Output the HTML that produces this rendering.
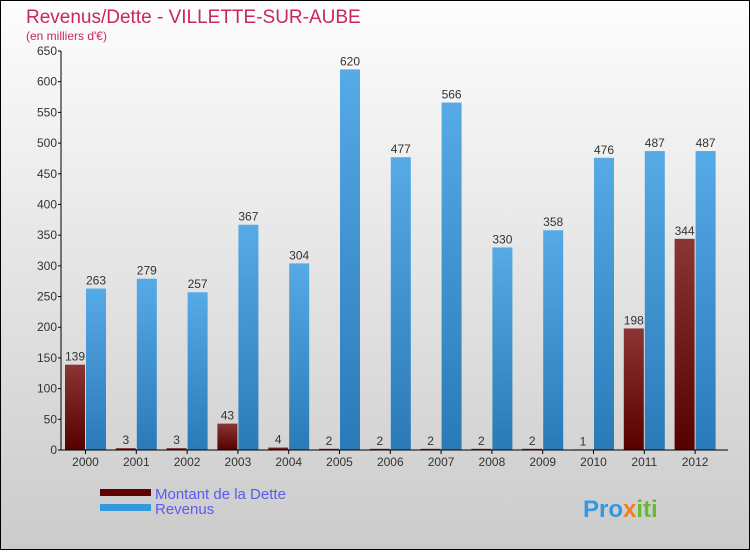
<!DOCTYPE html>
<html><head><meta charset="utf-8"><style>
body{margin:0}
svg text{font-family:"Liberation Sans",sans-serif}
</style></head><body>
<svg id="c" width="750" height="550" xmlns="http://www.w3.org/2000/svg">
<defs>
<linearGradient id="bg" x1="0" y1="0" x2="0" y2="1"><stop offset="0" stop-color="#fdfdfd"/><stop offset="1" stop-color="#cbcbcb"/></linearGradient>
<linearGradient id="gd" x1="0" y1="0" x2="0" y2="1"><stop offset="0" stop-color="#8a3434"/><stop offset="1" stop-color="#560000"/></linearGradient>
<linearGradient id="gr" x1="0" y1="0" x2="0" y2="1"><stop offset="0" stop-color="#56aae6"/><stop offset="1" stop-color="#2a7ab8"/></linearGradient>
</defs>
<rect x="0.5" y="0.5" width="749" height="549" fill="url(#bg)" stroke="#000"/>
<text x="26" y="23" font-size="19" fill="#c8285a">Revenus/Dette - VILLETTE-SUR-AUBE</text>
<text x="26" y="40" font-size="12" fill="#c8285a">(en milliers d'€)</text>
<g id="bars"></g>
<g id="axes"></g>
<rect x="100" y="489" width="51" height="7" fill="#600000"/>
<text x="155" y="499" font-size="15" fill="#5a5af0">Montant de la Dette</text>
<rect x="100" y="504" width="51" height="7" fill="#3399dd"/>
<text x="155" y="514" font-size="15" fill="#5a5af0">Revenus</text>
<text x="583" y="517" font-size="24" font-weight="bold" fill="#3399dd">Pro<tspan fill="#f08020">x</tspan><tspan fill="#66bb33">iti</tspan></text>
</svg>
<script>
const years=["2000","2001","2002","2003","2004","2005","2006","2007","2008","2009","2010","2011","2012"];
const dette=[139,3,3,43,4,2,2,2,2,2,1,198,344];
const revenus=[263,279,257,367,304,620,477,566,330,358,476,487,487];
const ticks=[0,50,100,150,200,250,300,350,400,450,500,550,600,650];
const NS="http://www.w3.org/2000/svg";
const y0=450,yTop=51,maxV=650;
function y(v){return y0-(v/maxV)*(y0-yTop);}
function gx(i){return 65+i*50.8;}
function mk(t,a,p){const e=document.createElementNS(NS,t);for(const k in a)e.setAttribute(k,a[k]);p.appendChild(e);return e;}
const B=document.getElementById('bars'),A=document.getElementById('axes');
years.forEach((yr,i)=>{
  const x=gx(i);
  let r=mk('rect',{x:x,y:y(dette[i]),width:20,height:y0-y(dette[i]),fill:'url(#gd)'},B);
  
  
  let t=mk('text',{x:x+10,y:y(dette[i])-4,'font-size':12,'text-anchor':'middle',fill:'#333'},B);t.textContent=dette[i];
  
  
  r=mk('rect',{x:x+21,y:y(revenus[i]),width:20,height:y0-y(revenus[i]),fill:'url(#gr)'},B);
  
  
  t=mk('text',{x:x+31,y:y(revenus[i])-4,'font-size':12,'text-anchor':'middle',fill:'#333'},B);t.textContent=revenus[i];
  
  
  t=mk('text',{x:x+20.5,y:466,'font-size':12,'text-anchor':'middle',fill:'#333'},A);t.textContent=yr;
  
  
  mk('line',{x1:x+20.5,x2:x+20.5,y1:y0,y2:y0+4,stroke:'#000'},A);
});
ticks.forEach(v=>{
  mk('line',{x1:58,x2:61,y1:y(v),y2:y(v),stroke:'#000'},A);
  const t=mk('text',{x:57,y:y(v)+4,'font-size':12,'text-anchor':'end',fill:'#333'},A);t.textContent=v;
  
  
});
let l=mk('line',{x1:61,x2:61,y1:yTop,y2:y0,stroke:'#000'},A);


l=mk('line',{x1:61,x2:728,y1:y0,y2:y0,stroke:'#000'},A);


</script>
</body></html>
